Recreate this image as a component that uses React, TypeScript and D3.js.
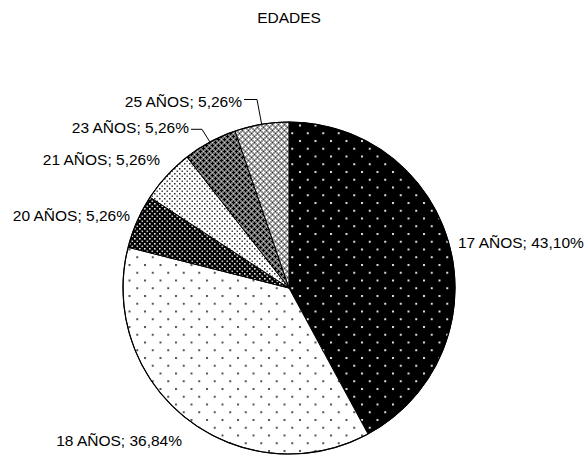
import React from "react";
import * as d3 from "d3";

const categories = ["17 AÑOS", "18 AÑOS", "20 AÑOS", "21 AÑOS", "23 AÑOS", "25 AÑOS"];
const counts = [8, 7, 1, 1, 1, 1];
const percentLabels = ["43,10%", "36,84%", "5,26%", "5,26%", "5,26%", "5,26%"];
const title = "EDADES";

const W = 588;
const H = 457;
const CX = 289;
const CY = 288;
const R = 166;
const FONT = "'Liberation Sans', Arial, sans-serif";
const FS = 15.5;

// label layout: x, baseline y, anchor, optional leader (horizontal segment y, x start, x end)
const labelLayout = [
  { x: 458, y: 248, anchor: "start" },
  { x: 182, y: 446, anchor: "end" },
  { x: 130, y: 220.5, anchor: "end" },
  { x: 160, y: 165, anchor: "end" },
  { x: 189, y: 133, anchor: "end", leader: { y: 129.3, x1: 191, x2: 202 } },
  { x: 242, y: 106.5, anchor: "end", leader: { y: 99.5, x1: 244, x2: 257 } },
];

const patternIds = ["p17", "p18", "p20", "p21", "p23", "p25"];

export default function App() {
  const data = categories.map((c, i) => ({ cat: c, value: counts[i], pct: percentLabels[i], i }));
  const pie = d3.pie<any>().sort(null).value((d: any) => d.value).startAngle(0).endAngle(2 * Math.PI);
  const arcs = pie(data);
  const arc = d3.arc<any>().innerRadius(0).outerRadius(R);

  return (
    <svg width={W} height={H} style={{ position: "absolute", left: 0, top: 0, background: "#fff" }}>
      <defs>
        <pattern id="p17" patternUnits="userSpaceOnUse" width={15.5} height={15.5} x={CX} y={CY - 2}>
          <rect width={15.5} height={15.5} fill="#000" />
          <rect x={0} y={0} width={2} height={2} fill="#ddd" />
          <rect x={7.75} y={7.75} width={2} height={2} fill="#ddd" />
        </pattern>
        <pattern id="p18" patternUnits="userSpaceOnUse" width={15.5} height={15.5} x={CX} y={CY - 2}>
          <rect width={15.5} height={15.5} fill="#fff" />
          <rect x={0} y={0} width={2} height={2} fill="#555" />
          <rect x={7.75} y={7.75} width={2} height={2} fill="#555" />
        </pattern>
        <pattern id="p20" patternUnits="userSpaceOnUse" width={5} height={5}>
          <rect width={5} height={5} fill="#000" />
          <rect x={0} y={0} width={1.6} height={1.6} fill="#eee" />
          <rect x={2.5} y={2.5} width={1.6} height={1.6} fill="#ccc" />
        </pattern>
        <pattern id="p21" patternUnits="userSpaceOnUse" width={5} height={5}>
          <rect width={5} height={5} fill="#fff" />
          <rect x={0} y={0} width={1.5} height={1.5} fill="#222" />
          <rect x={2.5} y={2.5} width={1.5} height={1.5} fill="#444" />
        </pattern>
        <pattern id="p23" patternUnits="userSpaceOnUse" width={6} height={6}>
          <rect width={6} height={6} fill="#777" />
          <rect x={0} y={1} width={3} height={1} fill="#000" />
          <rect x={1} y={0} width={1} height={3} fill="#000" />
          <rect x={3} y={4} width={3} height={1} fill="#000" />
          <rect x={4} y={3} width={1} height={3} fill="#000" />
          <rect x={4} y={1} width={1} height={1} fill="#ccc" />
          <rect x={1} y={4} width={1} height={1} fill="#ccc" />
        </pattern>
        <pattern id="p25" patternUnits="userSpaceOnUse" width={6} height={6}>
          <rect width={6} height={6} fill="#999" />
          <rect x={0} y={1} width={3} height={1} fill="#fff" />
          <rect x={1} y={0} width={1} height={3} fill="#fff" />
          <rect x={3} y={4} width={3} height={1} fill="#fff" />
          <rect x={4} y={3} width={1} height={3} fill="#fff" />
          <rect x={4} y={1} width={1} height={1} fill="#333" />
          <rect x={1} y={4} width={1} height={1} fill="#333" />
        </pattern>
      </defs>
      <text x={CX} y={23} textAnchor="middle" fontFamily={FONT} fontSize={FS} fill="#000">
        {title}
      </text>
      <g transform={`translate(${CX},${CY})`}>
        {arcs.map((a: any, i: number) => (
          <path key={i} d={arc(a) as string} fill={`url(#${patternIds[i]})`} stroke="#000" strokeWidth={1} />
        ))}
        <circle r={R} fill="none" stroke="#000" strokeWidth={1.2} />
      </g>
      {arcs.map((a: any, i: number) => {
        const L = labelLayout[i];
        const mid = (a.startAngle + a.endAngle) / 2;
        const ex = CX + Math.sin(mid) * (R - 1);
        const ey = CY - Math.cos(mid) * (R - 1);
        return (
          <g key={i}>
            {L.leader && (
              <polyline
                points={`${L.leader.x1},${L.leader.y} ${L.leader.x2},${L.leader.y} ${ex},${ey}`}
                fill="none"
                stroke="#000"
                strokeWidth={1}
              />
            )}
            <text x={L.x} y={L.y} textAnchor={L.anchor as any} fontFamily={FONT} fontSize={FS} fill="#000">
              {`${a.data.cat}; ${a.data.pct}`}
            </text>
          </g>
        );
      })}
    </svg>
  );
}
